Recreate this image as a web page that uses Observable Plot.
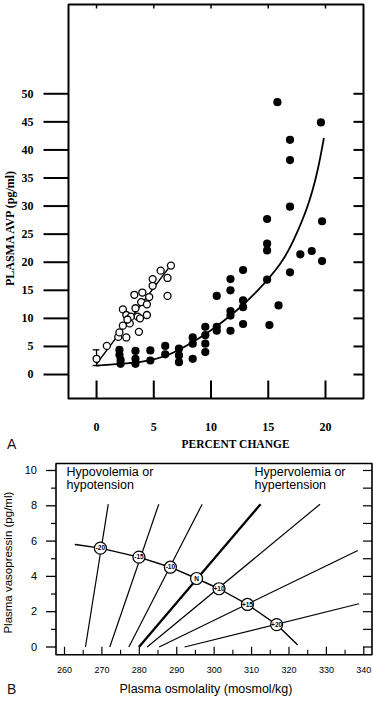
<!DOCTYPE html>
<html><head><meta charset="utf-8">
<script src="https://cdn.jsdelivr.net/npm/d3@7"></script>
<script src="https://cdn.jsdelivr.net/npm/@observablehq/plot@0.6"></script>
<style>
html,body{margin:0;padding:0;background:#fff;}
#wrap{position:relative;width:373px;height:703px;background:#fff;}
#wrap > svg{display:block;}
.tag{position:absolute;font-family:"Liberation Sans",Arial,sans-serif;font-size:14px;line-height:14px;color:#111;}
</style></head><body>
<div id="wrap"></div>
<script>
// ---------- Panel A data ----------
const xTicksA = [0, 5, 10, 15, 20];
const yTicksA = [0, 5, 10, 15, 20, 25, 30, 35, 40, 45, 50];
const openPct = [0.0, 0.9, 1.9, 2.0, 2.3, 2.6, 2.3, 2.6, 2.9, 3.0, 3.3, 3.4, 3.6, 3.7, 3.9, 4.0, 4.4, 4.4, 4.6, 4.9, 4.9, 5.6, 6.2, 6.2, 6.5, 2.7, 3.8];
const openAvp = [2.8, 5.1, 6.7, 7.5, 8.7, 6.6, 11.6, 10.6, 9.1, 10.3, 14.2, 11.8, 10.3, 7.6, 12.9, 14.6, 12.5, 10.6, 13.8, 15.8, 17.0, 18.5, 14.0, 17.2, 19.4, 9.8, 10.0];
const solidPct = [2.0, 2.0, 2.1, 2.1, 3.4, 3.4, 3.4, 4.7, 4.7, 6.0, 6.0, 7.2, 7.2, 7.2, 8.4, 8.4, 8.4, 9.5, 9.5, 9.5, 9.5, 10.5, 10.5, 10.5, 11.7, 11.7, 11.7, 11.7, 11.7, 12.8, 12.8, 12.8, 12.8, 14.9, 14.9, 14.9, 14.9, 15.1, 15.8, 15.9, 16.9, 16.9, 16.9, 16.9, 17.8, 18.8, 19.6, 19.7, 19.7];
const solidAvp = [4.4, 3.5, 2.6, 1.9, 4.2, 2.8, 1.9, 4.3, 2.5, 5.1, 3.6, 4.6, 3.4, 2.2, 6.6, 5.5, 2.8, 8.5, 7.0, 5.5, 4.0, 14.0, 8.5, 7.8, 17.0, 15.0, 11.3, 10.5, 7.8, 18.6, 13.2, 12.0, 9.0, 27.7, 23.3, 22.1, 16.9, 8.8, 48.5, 12.3, 41.8, 38.2, 29.9, 18.2, 21.4, 22.0, 44.9, 27.3, 20.2];
const curvePct = [0, 2, 4, 6, 8, 10, 12, 14, 16, 17.2, 18.4, 19.3, 19.85];
const curveAvp = [1.6, 1.9, 2.3, 3.3, 5.3, 7.9, 11.0, 14.8, 19.6, 23.9, 29.8, 36.3, 42.0];
const openLinePct = [0, 6.6];
const openLineAvp = [1.9, 19.8];
const errPct = [0];
const errLow = [1.6];
const errHigh = [4.4];

// ---------- Panel B data ----------
const xTicksB = [260, 270, 280, 290, 300, 310, 320, 330, 340];
const xMinorB = [265, 275, 285, 295, 305, 315, 325, 335];
const yTicksB = [0, 2, 4, 6, 8, 10];
const yMinorB = [1, 3, 5, 7, 9];
const yRightB = [0, 1, 2, 3, 4, 5, 6, 7, 8, 9, 10];
const isoLabels = ["-20", "-15", "-10", "N", "+10", "+15", "+20"];
const isoStartOsm = [265.6, 272.1, 277.2, 279.9, 282.1, 285.3, 292.1];
const isoEndOsm = [271.7, 285.2, 296.8, 312.4, 328.3, 338.4, 338.7];
const isoEndAvp = [8.09, 8.09, 8.09, 8.09, 8.09, 5.47, 2.45];
const descOsm = [262.9, 269.6, 279.9, 288.3, 295.3, 301.3, 308.9, 316.7, 322.2];
const descAvp = [5.81, 5.6, 5.09, 4.52, 3.88, 3.30, 2.41, 1.27, 0.14];

// ---------- tables ----------
const openPts = openPct.map((x, i) => ({x, y: openAvp[i]}));
const solidPts = solidPct.map((x, i) => ({x, y: solidAvp[i]}));
const curvePts = curvePct.map((x, i) => ({x, y: curveAvp[i]}));
const openLine = openLinePct.map((x, i) => ({x, y: openLineAvp[i]}));
const errBars = errPct.map((x, i) => ({x, lo: errLow[i], hi: errHigh[i]}));

const isoLines = isoLabels.map((l, i) => ({label: l, x1: isoStartOsm[i], y1: 0, x2: isoEndOsm[i], y2: isoEndAvp[i], w: l === "N" ? 2.3 : 1.2}));
const descPts = descOsm.map((x, i) => ({x, y: descAvp[i]}));
const circles = isoLabels.map((l, i) => ({label: l, x: descOsm[i + 1], y: descAvp[i + 1]}));

const serif = "Liberation Serif, DejaVu Serif, serif";
const sans = "Liberation Sans, Arial, sans-serif";

// frame as a closed Plot.line path; tick marks as Plot.link segments (px lengths converted through the scale)
function frameAndTicks(xDom, yDom, fw, fh, specs, frameWidth) {
  const kx = (xDom[1] - xDom[0]) / fw, ky = (yDom[1] - yDom[0]) / fh;
  const segs = [];
  for (const s of specs) {
    for (const t of s.ticks) {
      if (s.side === "left") segs.push({x1: xDom[0] - s.len * kx, x2: xDom[0], y1: t, y2: t, w: s.w});
      if (s.side === "right") segs.push({x1: xDom[1] - s.len * kx, x2: xDom[1], y1: t, y2: t, w: s.w});
      if (s.side === "bottom") segs.push({x1: t, x2: t, y1: yDom[0] - s.len * ky, y2: yDom[0], w: s.w});
      if (s.side === "top") segs.push({x1: t, x2: t, y1: yDom[1] - s.len * ky, y2: yDom[1], w: s.w});
    }
  }
  const corners = [
    {x: xDom[0], y: yDom[0]}, {x: xDom[1], y: yDom[0]}, {x: xDom[1], y: yDom[1]},
    {x: xDom[0], y: yDom[1]}, {x: xDom[0], y: yDom[0]}
  ];
  return [
    Plot.link(segs, {x1: "x1", y1: "y1", x2: "x2", y2: "y2", stroke: "black", strokeWidth: d => d.w}),
    Plot.line(corners, {x: "x", y: "y", stroke: "black", strokeWidth: frameWidth, strokeLinejoin: "miter"})
  ];
}

// panel A geometry
const wA = 373, hA = 455, mlA = 68, mrA = 10, mtA = 4, mbA = 57;
const fwA = wA - mlA - mrA, fhA = hA - mtA - mbA;
const xDomA = [-2.45, 23.32], yDomA = [-4.27, 65.9];

const plotA = Plot.plot({
  width: wA, height: hA,
  marginLeft: mlA, marginRight: mrA, marginTop: mtA, marginBottom: mbA,
  x: {domain: xDomA, axis: null},
  y: {domain: yDomA, axis: null},
  style: {fontFamily: serif, fontWeight: "bold", fontSize: "12px", color: "black"},
  marks: [
    ...frameAndTicks(xDomA, yDomA, fwA, fhA, [
      {side: "left", ticks: yTicksA, len: 25, w: 2},
      {side: "right", ticks: yTicksA, len: 10, w: 2},
      {side: "bottom", ticks: xTicksA, len: -18, w: 2},
      {side: "top", ticks: xTicksA, len: 4, w: 1.5}
    ], 2),
    Plot.line(curvePts, {x: "x", y: "y", curve: "natural", stroke: "black", strokeWidth: 1.8}),
    Plot.line(openLine, {x: "x", y: "y", stroke: "black", strokeWidth: 1.5}),
    Plot.ruleX(errBars, {x: "x", y1: "lo", y2: "hi", stroke: "black", strokeWidth: 1.3}),
    Plot.ruleY(errBars, {y: "hi", x1: d => d.x - 0.3, x2: d => d.x + 0.3, stroke: "black", strokeWidth: 1.3}),
    Plot.ruleY(errBars, {y: "lo", x1: d => d.x - 0.3, x2: d => d.x + 0.3, stroke: "black", strokeWidth: 1.3}),
    Plot.dot(openPts, {x: "x", y: "y", r: 3.5, fill: "white", stroke: "black", strokeWidth: 1.3}),
    Plot.dot(solidPts, {x: "x", y: "y", r: 4.1, fill: "black", stroke: "none"}),
    Plot.text(yTicksA, {y: d => d, text: d => String(d), frameAnchor: "left", dx: -35, textAnchor: "end", lineAnchor: "middle", fill: "black"}),
    Plot.text(xTicksA, {x: d => d, text: d => String(d), frameAnchor: "bottom", dy: 24, textAnchor: "middle", lineAnchor: "top", fill: "black"}),
    Plot.text(["PLASMA AVP (pg/ml)"], {frameAnchor: "left", textAnchor: "middle", rotate: -90, dx: -58, dy: 27, fontSize: 12, fontWeight: "bold", fill: "black"}),
    Plot.text(["PERCENT CHANGE"], {frameAnchor: "bottom", textAnchor: "middle", dx: 19.5, dy: 46, lineAnchor: "middle", fontSize: 11.5, fontWeight: "bold", fill: "black"})
  ]
});

// panel B geometry
const wB = 373, hB = 248, mlB = 55.5, mrB = 1.5, mtB = 8, mbB = 48.7;
const fwB = wB - mlB - mrB, fhB = hB - mtB - mbB;
const xDomB = [257.73, 342.19], yDomB = [-0.442, 10.396];

const plotB = Plot.plot({
  width: wB, height: hB,
  marginLeft: mlB, marginRight: mrB, marginTop: mtB, marginBottom: mbB,
  x: {domain: xDomB, axis: null},
  y: {domain: yDomB, axis: null},
  style: {fontFamily: sans, fontSize: "10px", color: "black"},
  marks: [
    ...frameAndTicks(xDomB, yDomB, fwB, fhB, [
      {side: "left", ticks: yTicksB, len: 10, w: 1.3},
      {side: "left", ticks: yMinorB, len: 5, w: 1.2},
      {side: "right", ticks: yRightB, len: 9, w: 1.2},
      {side: "bottom", ticks: xTicksB, len: -8, w: 1.2},
      {side: "bottom", ticks: xMinorB, len: -5, w: 1.1}
    ], 1.6),
    Plot.link(isoLines, {x1: "x1", y1: "y1", x2: "x2", y2: "y2", stroke: "black", strokeWidth: d => d.w}),
    Plot.line(descPts, {x: "x", y: "y", stroke: "black", strokeWidth: 1.4}),
    Plot.dot(circles, {x: "x", y: "y", r: 6, fill: "white", stroke: "black", strokeWidth: 1.2}),
    Plot.text(circles, {x: "x", y: "y", text: "label", fontSize: 6.5, fontWeight: "bold", fill: "black"}),
    Plot.text(yTicksB, {y: d => d, text: d => String(d), frameAnchor: "left", dx: -19, textAnchor: "end", lineAnchor: "middle", fontSize: 11, fill: "black"}),
    Plot.text(xTicksB, {x: d => d, text: d => String(d), frameAnchor: "bottom", dy: 12, textAnchor: "middle", lineAnchor: "top", fontSize: 9, fill: "black"}),
    Plot.text(["Hypovolemia or\nhypotension"], {frameAnchor: "top-left", dx: 10.5, dy: 4, textAnchor: "start", lineAnchor: "top", fontSize: 12.5, lineHeight: 1.0, fill: "black"}),
    Plot.text(["Hypervolemia or\nhypertension"], {frameAnchor: "top-right", dx: -117.5, dy: 4, textAnchor: "start", lineAnchor: "top", fontSize: 12.5, lineHeight: 1.0, fill: "black"}),
    Plot.text(["Plasma vasopressin (pg/ml)"], {frameAnchor: "left", textAnchor: "middle", rotate: -90, dx: -48, dy: 3.5, fontSize: 11.5, fill: "black"}),
    Plot.text(["Plasma osmolality (mosmol/kg)"], {frameAnchor: "bottom", textAnchor: "middle", dx: -8, dy: 34, lineAnchor: "middle", fontSize: 12.5, fill: "black"})
  ]
});

const wrap = document.getElementById("wrap");
wrap.appendChild(plotA);
wrap.appendChild(plotB);
const tA = document.createElement("div");
tA.className = "tag"; tA.textContent = "A"; tA.style.left = "7px"; tA.style.top = "436.5px";
const tB = document.createElement("div");
tB.className = "tag"; tB.textContent = "B"; tB.style.left = "7px"; tB.style.top = "681.5px";
wrap.appendChild(tA); wrap.appendChild(tB);
</script></body></html>
